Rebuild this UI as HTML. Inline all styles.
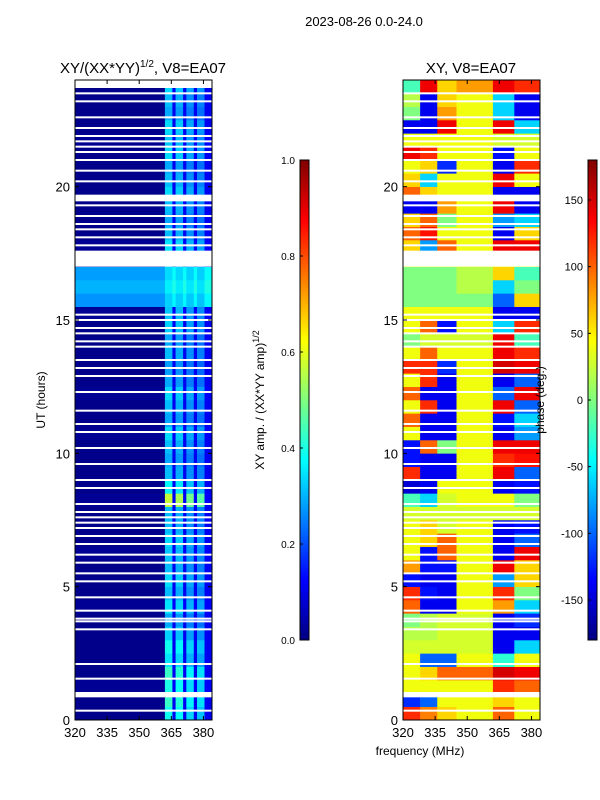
<!DOCTYPE html>
<html><head><meta charset="utf-8"><style>
body{margin:0;background:#fff;}
svg{display:block;font-family:"Liberation Sans",sans-serif;}
</style></head><body>
<svg id="fig" width="600" height="800" viewBox="0 0 600 800">
<text x="364" y="26" font-size="13" text-anchor="middle">2023-08-26 0.0-24.0</text>
<text x="143" y="73" font-size="15" text-anchor="middle">XY/(XX*YY)<tspan font-size="10" dy="-6">1/2</tspan><tspan dy="6">, V8=EA07</tspan></text>
<text x="471" y="73" font-size="15" text-anchor="middle">XY, V8=EA07</text>
<text x="420" y="755" font-size="12" text-anchor="middle">frequency (MHz)</text>
<text transform="translate(45,400) rotate(-90)" font-size="12" text-anchor="middle">UT (hours)</text>
<text transform="translate(264,400) rotate(-90)" font-size="12" text-anchor="middle">XY amp. / (XX*YY amp)<tspan font-size="9" dy="-5">1/2</tspan></text>
<g id="left"></g>
<g id="right"></g>
<g id="axes"></g>
<text transform="translate(544,400) rotate(-90)" font-size="12" text-anchor="middle">phase (deg.)</text>
</svg>
<script>
// ---- data ----
const freqMin = 320, freqMax = 384, hMin = 0, hMax = 24;
const xTicks = [320, 335, 350, 365, 380];
const yTicks = [0, 5, 10, 15, 20];
const ampTicks = [0.0, 0.2, 0.4, 0.6, 0.8, 1.0];
const phaseTicks = [-150, -100, -50, 0, 50, 100, 150];
// amplitude panel: column segment edges (MHz); band segments at indices 1,3,5,7
const ampEdges = [320, 362, 365.5, 367, 370.5, 372, 375.5, 377, 380.5, 384];
const bandProfile = [1.0, 0.95, 0.85, 0.8];
const rowBase = [0.01,0.01,0.02,0.01,0.01,0.01,0.01,0.01,0.02,0.01,0.01,0.01,0.02,0.01,0.01,0.01,0.02,0.01,0.01,0.01,0.01,0.02,0.01,0.01,0.02,0.01,0.01,0.01,0.01,0.01,0.02,0.27,0.3,0.28,0.01,0.02,0.01,0.01,0.01,0.01,0.01,0.01,0.01,0.02,0.01,0.01,0.01,0.01];
const bandLevel = [0.38,0.42,0.38,0.42,0.34,0.38,0.32,0.28,0.33,0.3,0.33,0.3,0.3,0.33,0.3,0.3,0.55,0.36,0.3,0.28,0.3,0.32,0.28,0.3,0.32,0.28,0.27,0.3,0.28,0.32,0.3,0.06,0.06,0.06,0.3,0.33,0.3,0.28,0.3,0.33,0.3,0.28,0.33,0.3,0.33,0.28,0.3,0.33];
// phase panel: segment edges and per-half-hour values (deg)
const phEdges = [320, 328, 336, 345, 362, 372, 384];
const phaseRows = [
[120,90,60,40,100,40],[-120,-100,40,40,60,40],[40,40,40,40,120,100],[40,60,100,100,150,140],
[40,-100,-100,40,-30,40],[30,30,30,30,-140,-60],[20,20,30,30,-140,-140],[0,20,30,30,-140,-120],
[100,-140,-140,40,80,-60],[120,-130,-140,40,120,0],[-130,-140,-140,40,-80,60],[80,-130,-130,40,140,60],
[40,-130,100,40,-140,140],[40,60,100,40,-140,-100],[40,60,30,40,-140,-130],[30,30,30,30,30,30],
[-20,-60,30,40,40,0],[-150,-140,40,40,-140,-130],[120,-140,-140,40,140,-100],[-130,-140,-140,40,120,130],
[-130,100,0,40,140,140],[40,-140,-140,40,-140,-80],[100,-140,-140,40,-130,-60],[40,120,-140,40,140,-100],
[100,-140,-140,40,-100,140],[40,120,-140,40,-140,-100],[120,120,-120,40,150,140],[40,100,40,40,140,120],
[0,30,30,30,140,-20],[40,100,-130,40,-60,120],[40,40,40,40,-140,-140],[0,0,0,0,-100,60],
[0,0,0,20,-60,0],[0,0,0,20,60,-20],[40,40,40,40,40,40],[60,-80,100,40,140,140],
[100,130,40,40,-140,60],[60,100,0,40,-80,-60],[-140,-140,80,40,140,-140],[100,60,40,40,-140,-140],
[60,-60,40,40,140,40],[40,60,-120,40,-140,120],[140,120,40,40,-130,40],[40,40,40,40,30,30],
[-140,-140,140,40,140,-60],[0,-140,80,40,-60,-140],[20,-140,60,40,-60,-140],[-20,140,60,80,140,120]];
const flagLines = [0.35,1.55,2.1,3.4,3.7,3.8,4.1,4.6,5.2,5.5,5.9,6.2,6.6,6.9,7.2,7.4,7.6,7.8,8.1,8.7,9.0,9.6,10.2,10.8,11.1,11.6,12.3,12.9,13.2,13.5,14.0,14.2,14.5,14.7,15.0,15.2,17.8,18.1,18.4,18.6,18.9,19.3,20.2,20.6,21.0,21.3,21.5,21.7,21.9,22.2,22.6,23.2,23.5];
const flagRanges = [[0.85,1.05],[17.0,17.6],[19.45,19.7]];

// ---- helpers ----
const NS = "http://www.w3.org/2000/svg";
function jet(t){t=Math.max(0,Math.min(1,t));
 const c=v=>Math.round(255*Math.max(0,Math.min(1,v)));
 return `rgb(${c(1.5-Math.abs(4*t-3))},${c(1.5-Math.abs(4*t-2))},${c(1.5-Math.abs(4*t-1))})`;}
function mk(tag, attrs, parent){const e=document.createElementNS(NS,tag);for(const k in attrs)e.setAttribute(k,attrs[k]);parent.appendChild(e);return e;}
const panels = {left:{x0:75,x1:212}, right:{x0:403,x1:540}};
const yTop=80, yBot=720;
const yS = h => yBot - (h-hMin)/(hMax-hMin)*(yBot-yTop);
const xS = (p,f) => p.x0 + (f-freqMin)/(freqMax-freqMin)*(p.x1-p.x0);
const rowH = (hMax-hMin)/rowBase.length;

// amplitude heatmap
const L = document.getElementById('left');
rowBase.forEach((b,r)=>{
 for(let s=0;s<ampEdges.length-1;s++){
  let v=b;
  if(s>0){const bi=(s-1)>>1; v = (s%2===1)? b+bandLevel[r]*bandProfile[bi] : b+0.1;}
  const el=mk('rect',{x:xS(panels.left,ampEdges[s]),y:yS((r+1)*rowH),width:xS(panels.left,ampEdges[s+1])-xS(panels.left,ampEdges[s])+0.3,height:yS(r*rowH)-yS((r+1)*rowH)+0.3,fill:jet(v)},L);
  
  
 }
});
// phase heatmap
const R = document.getElementById('right');
phaseRows.forEach((row,r)=>{
 row.forEach((v,s)=>{
  const el=mk('rect',{x:xS(panels.right,phEdges[s]),y:yS((r+1)*rowH),width:xS(panels.right,phEdges[s+1])-xS(panels.right,phEdges[s])+0.3,height:yS(r*rowH)-yS((r+1)*rowH)+0.3,fill:jet((v+180)/360)},R);
  
  
 });
});
// flags
const A = document.getElementById('axes');
['left','right'].forEach(k=>{
 const p=panels[k];
 flagLines.forEach(h=>{const el=mk('rect',{x:p.x0,y:yS(h)-1,width:p.x1-p.x0,height:2,fill:'#fff'},A);
  });
 flagRanges.forEach(([a,b])=>{const el=mk('rect',{x:p.x0,y:yS(b),width:p.x1-p.x0,height:yS(a)-yS(b),fill:'#fff'},A);
  });
});
{const el=mk('rect',{x:75,y:yS(24),width:137,height:yS(23.7)-yS(24),fill:'#fff'},A);
 }
// frames & ticks
['left','right'].forEach(k=>{
 const p=panels[k];
 const fr=mk('rect',{x:p.x0,y:yTop,width:p.x1-p.x0,height:yBot-yTop,fill:'none',stroke:'#000','stroke-width':1},A);
 
 xTicks.forEach(t=>{const x=xS(p,t);
  mk('line',{x1:x,x2:x,y1:yBot,y2:yBot-4,stroke:'#000'},A);
  mk('line',{x1:x,x2:x,y1:yTop,y2:yTop+4,stroke:'#000'},A);
  const tx=mk('text',{x:x,y:yBot+17,'font-size':13,'text-anchor':'middle'},A);tx.textContent=t;
  });
 yTicks.forEach(t=>{const y=yS(t);
  mk('line',{x1:p.x0,x2:p.x0+4,y1:y,y2:y,stroke:'#000'},A);
  mk('line',{x1:p.x1,x2:p.x1-4,y1:y,y2:y,stroke:'#000'},A);
  const tx=mk('text',{x:p.x0-5,y:y+5,'font-size':13,'text-anchor':'end'},A);tx.textContent=t;
  });
});
// colorbars
function colorbar(x, lo, hi, ticks, fmt, name){
 const g=mk('g',{},A);
 
 const y0=160,y1=640,n=120;
 for(let i=0;i<n;i++){mk('rect',{x:x,y:y1-(i+1)*(y1-y0)/n,width:9,height:(y1-y0)/n+0.5,fill:jet((i+0.5)/n)},g);}
 mk('rect',{x:x,y:y0,width:9,height:y1-y0,fill:'none',stroke:'#000'},g);
 ticks.forEach(t=>{const y=y1-(t-lo)/(hi-lo)*(y1-y0);
  mk('line',{x1:x,x2:x+3,y1:y,y2:y,stroke:'#000'},g);
  const tx=mk('text',{x:x-5,y:y+4,'font-size':fmt?10:11,'text-anchor':'end'},g);tx.textContent=fmt?t.toFixed(1):t;
  });
}
colorbar(300,0,1,ampTicks,true,'amp-colorbar');
colorbar(588,-180,180,phaseTicks,false,'phase-colorbar');
</script>
</body></html>
